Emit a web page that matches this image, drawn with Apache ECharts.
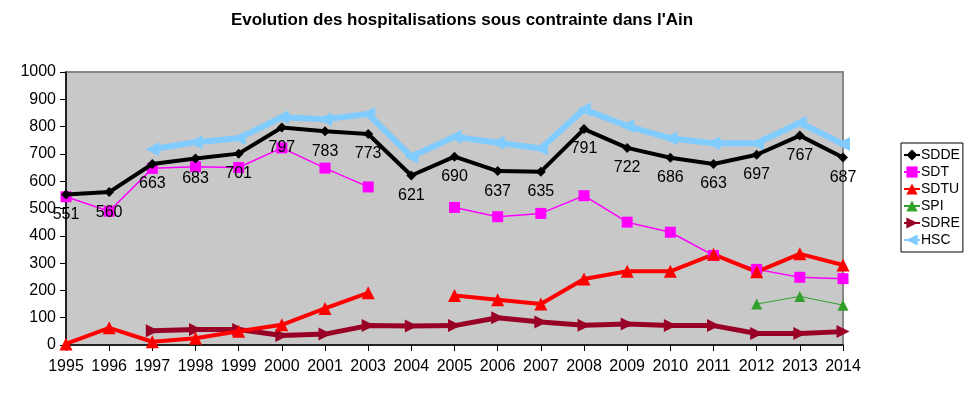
<!DOCTYPE html>
<html><head><meta charset="utf-8">
<script src="https://cdn.jsdelivr.net/npm/echarts@6/dist/echarts.min.js"></script>
<style>html,body{margin:0;padding:0;background:#fff}#c{width:964px;height:397px}</style>
</head><body><div id="c"></div>
<script>
const categories = ['1995','1996','1997','1998','1999','2000','2001','2003','2004','2005','2006','2007','2008','2009','2010','2011','2012','2013','2014'];
const SDDE = [551,560,663,683,701,797,783,773,621,690,637,635,791,722,686,663,697,767,687];
const SDT  = [543,490,647,653,650,722,648,579,null,504,470,482,547,450,413,328,277,248,243];
const SDTU = [4,63,12,25,50,74,134,191,null,181,166,150,242,270,270,332,268,334,293];
const SPI  = [null,null,null,null,null,null,null,null,null,null,null,null,null,null,null,null,150,178,146];
const SDRE = [null,null,52,57,57,35,40,71,70,71,100,84,72,77,71,71,42,42,49];
const HSC  = [null,null,717,743,757,834,827,846,690,763,741,720,863,802,757,739,739,814,736];
const yTicks = {min:0, max:1000, interval:100};

const chart = echarts.init(document.getElementById('c'));
const font = 'Liberation Sans, Arial, sans-serif';
chart.setOption({
  animation:false,
  title:{text:"Evolution des hospitalisations sous contrainte dans l'Ain", left:457, textAlign:'center', top:7,
    textStyle:{fontFamily:font, fontSize:17, fontWeight:'bold', color:'#000'}},
  grid:{left:66, right:121, top:72, bottom:52, show:true, backgroundColor:'#c8c8c8', borderColor:'#888', borderWidth:2},
  legend:{orient:'vertical', left:901, top:143, itemGap:3, itemWidth:16, itemHeight:14,
    borderColor:'#000', borderWidth:1, padding:[5,3,5,2],
    textStyle:{fontFamily:font, fontSize:14, color:'#000', padding:[0,0,0,-4]},
    data:['SDDE','SDT','SDTU','SPI','SDRE','HSC']},
  xAxis:{type:'category', data:categories, boundaryGap:false,
    axisLine:{lineStyle:{color:'#000', width:1.5}},
    axisTick:{show:true, alignWithLabel:true, interval:0, length:6, lineStyle:{color:'#000'}},
    axisLabel:{fontFamily:font, fontSize:16, color:'#000', margin:14, interval:0, hideOverlap:false},
    splitLine:{show:false}},
  yAxis:{type:'value', min:yTicks.min, max:yTicks.max, interval:yTicks.interval,
    axisLine:{show:true, lineStyle:{color:'#000', width:1.5}},
    axisTick:{show:true, length:6, lineStyle:{color:'#000'}},
    axisLabel:{fontFamily:font, fontSize:16, color:'#000', margin:10, formatter:v=>String(v)},
    splitLine:{show:false}},
  series:[
    {name:'HSC', type:'line', data:HSC, z:2, color:'#80ccff', lineStyle:{width:6, color:'#80ccff'},
      symbol:'triangle', symbolRotate:90, symbolSize:[14,14], itemStyle:{color:'#80ccff'}},
    {name:'SDDE', type:'line', data:SDDE, z:5, color:'#000', lineStyle:{width:4, color:'#000'},
      symbol:'diamond', symbolSize:10, itemStyle:{color:'#000'},
      label:{show:true, position:'bottom', distance:7, fontFamily:font, fontSize:16, color:'#000'}},
    {name:'SDT', type:'line', data:SDT, z:4, color:'#ff00ff', lineStyle:{width:1.5, color:'#ff00ff'},
      symbol:'rect', symbolSize:11, itemStyle:{color:'#ff00ff'}},
    {name:'SDTU', type:'line', data:SDTU, z:4, color:'#ff0000', lineStyle:{width:4, color:'#ff0000'},
      symbol:'triangle', symbolSize:13, itemStyle:{color:'#ff0000'}},
    {name:'SPI', type:'line', data:SPI, z:4, color:'#33a02c', lineStyle:{width:1, color:'#33a02c'},
      symbol:'triangle', symbolSize:11, itemStyle:{color:'#33a02c'}},
    {name:'SDRE', type:'line', data:SDRE, z:3, color:'#990026', lineStyle:{width:5, color:'#990026'},
      symbol:'triangle', symbolRotate:-90, symbolSize:13, itemStyle:{color:'#990026'}}
  ]
});
</script></body></html>
